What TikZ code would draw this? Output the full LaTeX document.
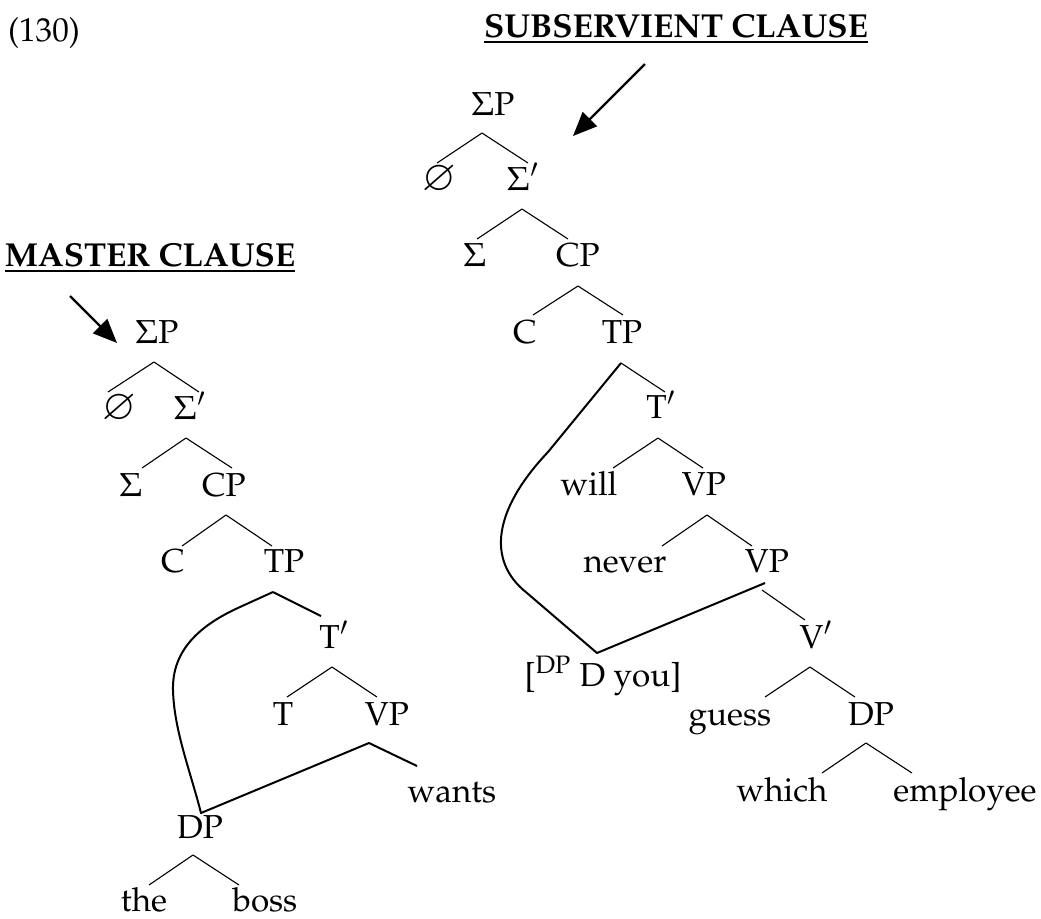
\documentclass[tikz,border=0pt]{standalone}
\usepackage[T1]{fontenc}
\usepackage{mathpazo}
\usepackage{amssymb}
\usetikzlibrary{arrows.meta}
\newcommand{\nullsym}{\scalebox{1.25}{$\varnothing$}}
\begin{document}
\begin{tikzpicture}[x=0.5pt,y=-0.5pt,
  lab/.style={anchor=base,inner sep=0pt,font=\fontsize{16.6}{20}\selectfont},
  br/.style={line width=0.55pt},
  mv/.style={line width=1pt,line join=round},
  bigarrow/.style={line width=1.1pt,-{Triangle[length=12pt,width=10pt]}}]
\useasboundingbox (0,0) rectangle (1041,918);
% titles
\node[lab] (ex) at (44,41) {(130)};
\node[lab] (sub) at (676,37) {\textbf{\underline{SUBSERVIENT CLAUSE}}};
\node[lab] (mas) at (150,266) {\textbf{\underline{MASTER CLAUSE}}};
\coordinate (subA) at (645,64);
\coordinate (subB) at (573,136);
\draw[bigarrow] (subA) -- (subB);
\coordinate (masA) at (70,296);
\coordinate (masB) at (117,343);
\draw[bigarrow] (masA) -- (masB);

% ---------- right tree ----------
\node[lab] (rSP) at (493,115) {$\Sigma$P};
\node[lab] (rnull) at (439,190) {\nullsym};
\node[lab] (rSb) at (523,190) {$\Sigma'$};
\node[lab] (rS) at (475,266) {$\Sigma$};
\node[lab] (rCP) at (578,266) {CP};
\node[lab] (rC) at (525,343) {C};
\node[lab] (rTP) at (622,343) {TP};
\node[lab] (rTb) at (661,418) {T$'$};
\node[lab] (rwill) at (589,495) {will};
\node[lab] (rVP) at (704,495) {VP};
\node[lab] (rnever) at (625,572) {never};
\node[lab] (rVPb) at (767,572) {VP};
\node[lab] (rVb) at (816,648) {V$'$};
\node[lab] (ryou) at (603,686) {[\textsuperscript{DP} D you]};
\node[lab] (rguess) at (730,725) {guess};
\node[lab] (rDP) at (871,725) {DP};
\node[lab] (rwhich) at (782,801) {which};
\node[lab] (remp) at (965,801) {employee};

\coordinate (r1) at (482,133);
\draw[br] (r1) -- ++(-45,30) (r1) -- ++(46,30);
\coordinate (r2) at (522,209);
\draw[br] (r2) -- ++(-45,30) (r2) -- ++(46,30);
\coordinate (r3) at (578,286);
\draw[br] (r3) -- ++(-45,29) (r3) -- ++(45,29);
\coordinate (r4) at (621,363);
\draw[br] (r4) -- ++(44,29);
\coordinate (r5) at (658,438);
\draw[br] (r5) -- ++(-45,30) (r5) -- ++(45,30);
\coordinate (r6) at (707,515);
\draw[br] (r6) -- ++(-45,31) (r6) -- ++(45,31);
\coordinate (r7) at (762,590);
\draw[br] (r7) -- ++(43,30);
\coordinate (r8) at (810,667);
\draw[br] (r8) -- ++(-45,30) (r8) -- ++(45,30);
\coordinate (r9) at (866,743);
\draw[br] (r9) -- ++(-44,30) (r9) -- ++(46,30);
% movement line
\coordinate (rbot) at (597,653);
\coordinate (rtop) at (765,583);
\draw[mv] (r4) -- (548,452) .. controls (495,508) and (485,560) .. (527,593) -- (rbot) -- (rtop);

% ---------- left tree ----------
\node[lab] (lSP) at (157,343) {$\Sigma$P};
\node[lab] (lnull) at (119,419) {\nullsym};
\node[lab] (lSb) at (190,419) {$\Sigma'$};
\node[lab] (lS) at (131,496) {$\Sigma$};
\node[lab] (lCP) at (224,496) {CP};
\node[lab] (lC) at (173,572) {C};
\node[lab] (lTP) at (284,572) {TP};
\node[lab] (lTb) at (334,648) {T$'$};
\node[lab] (lT) at (283,725) {T};
\node[lab] (lVP) at (387,725) {VP};
\node[lab] (lwants) at (452,802) {wants};
\node[lab] (lDP) at (200,838) {DP};
\node[lab] (lthe) at (144,911) {the};
\node[lab] (lboss) at (265,911) {boss};

\coordinate (l1) at (154,362);
\draw[br] (l1) -- ++(-46,30) (l1) -- ++(45,30);
\coordinate (l2) at (186,438);
\draw[br] (l2) -- ++(-44,30) (l2) -- ++(46,30);
\coordinate (l3) at (226,515);
\draw[br] (l3) -- ++(-44,31) (l3) -- ++(46,31);
\coordinate (l4) at (273,592);
\coordinate (l5) at (332,667);
\draw[br] (l5) -- ++(-45,30) (l5) -- ++(45,30);
\coordinate (l6) at (369,743);
\coordinate (l7) at (193,855);
\draw[br] (l7) -- ++(-44,30) (l7) -- ++(46,30);
\coordinate (lbot) at (201,813);
\draw[mv] (l4) -- ++(48,24);
\draw[mv] (l4) -- (240,607) .. controls (200,625) and (172,650) .. (173,690) .. controls (174,730) and (190,770) .. (lbot) -- (l6) -- ++(48,23);
\end{tikzpicture}
\end{document}
